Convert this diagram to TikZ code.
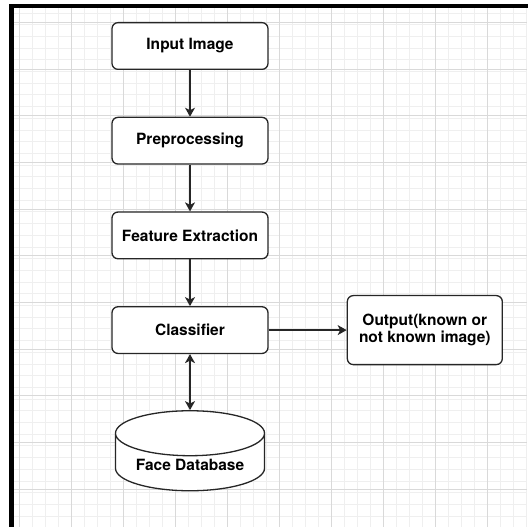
\documentclass[tikz,border=0pt]{standalone}
\usepackage{fontspec}
\setmainfont{TeX Gyre Heros}
\usepackage{tikz}
\usetikzlibrary{arrows.meta, positioning, shapes.geometric}

\definecolor{gridminor}{HTML}{EFEFEF}
\definecolor{gridmajor}{HTML}{D9D9D9}

\begin{document}
\begin{tikzpicture}[
  x=1bp, y=1bp,
  node distance=46.7bp,
  >={Stealth[length=9bp, width=10bp, inset=2.5bp]},
  box/.style={rounded corners=6bp, draw=black!85, line width=1.3bp, fill=white, align=center, minimum width=156bp, minimum height=46.7bp, inner sep=2bp, font=\fontsize{15.5bp}{17.4bp}\selectfont\bfseries},
  db/.style={box, shape=cylinder, shape border rotate=90, aspect=0.4, minimum width=149bp, minimum height=80bp, rounded corners=0bp},
  arrow/.style={->, line width=1.3bp, draw=black!85}
]

% background and grid
\useasboundingbox (0,0) rectangle (527,527);
\fill[white] (0,0) rectangle (527,527);
\begin{scope}
  \clip (11.5,0) rectangle (527,521);
  \foreach \x in {6.7,19.7,...,530} \draw[gridminor, line width=0.8bp] (\x,0) -- (\x,527);
  \foreach \y in {1.3,13,...,530} \draw[gridminor, line width=0.8bp] (0,527-\y) -- (527,527-\y);
  \foreach \x in {19.7,71.7,...,530} \draw[gridmajor, line width=0.9bp] (\x,0) -- (\x,527);
  \foreach \y in {22.3,69,...,530} \draw[gridmajor, line width=0.9bp] (0,527-\y) -- (527,527-\y);
\end{scope}
\draw[line width=4.5bp, line cap=rect] (11.5,0) -- (11.5,521) -- (527,521);

\node[box] (input) at (190,481) {Input Image};

\node[box, below=of input] (prep) {Preprocessing};

\node[box, below=of prep] (feat) {Feature Extraction};

\node[box, below=of feat] (clf) {Classifier};

\node[box, right=78bp of clf, minimum width=155bp, minimum height=69bp] (out) {Output(known or\\
not known image)};

\node[db, below=56bp of clf] (facedb) {Face Database};

\draw[arrow] (input) -- (prep);
\draw[arrow] (prep) -- (feat);
\draw[arrow] (feat) -- (clf);
\draw[arrow] (clf) -- (out);
\draw[arrow, <->] (clf) -- (facedb);

\end{tikzpicture}
\end{document}
